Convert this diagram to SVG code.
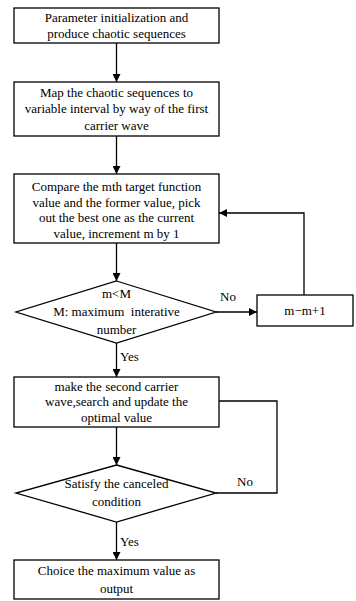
<svg xmlns="http://www.w3.org/2000/svg" width="356" height="601" viewBox="0 0 356 601">
<style>
.b{fill:#fff;stroke:#000;stroke-width:1.3}
.c{fill:none;stroke:#000;stroke-width:1.3}
text{font-family:"Liberation Serif","Times New Roman",serif;font-size:13px;fill:#000;text-anchor:middle}
.l{text-anchor:start}
</style>
<defs>
<marker id="a" viewBox="0 0 10 10" refX="10" refY="5" markerWidth="8" markerHeight="8" markerUnits="userSpaceOnUse" orient="auto">
<path d="M0,0 L10,5 L0,10 Z" fill="#000"/>
</marker>
</defs>
<rect width="356" height="601" fill="#fff"/>
<g id="connectors">
<line class="c" x1="116.5" y1="43" x2="116.5" y2="82" marker-end="url(#a)"/>
<line class="c" x1="116.5" y1="136" x2="116.5" y2="174" marker-end="url(#a)"/>
<line class="c" x1="116.5" y1="243" x2="116.5" y2="281" marker-end="url(#a)"/>
<line class="c" x1="216" y1="312" x2="257" y2="312" marker-end="url(#a)"/>
<polyline class="c" points="304,295 304,213 219,213" marker-end="url(#a)"/>
<line class="c" x1="116.5" y1="343" x2="116.5" y2="377" marker-end="url(#a)"/>
<polyline class="c" points="219,401 277,401 277,493 216,493"/>
<line class="c" x1="116.5" y1="427" x2="116.5" y2="465" marker-end="url(#a)"/>
<line class="c" x1="116.5" y1="522" x2="116.5" y2="560" marker-end="url(#a)"/>
<text class="l" x="220" y="301">No</text>
<text class="l" x="120" y="361">Yes</text>
<text class="l" x="237" y="486">No</text>
<text class="l" x="120" y="546">Yes</text>
</g>
<g id="n1">
<rect class="b" x="14" y="8" width="205" height="35"/>
<text x="116.5" y="22">Parameter initialization and</text>
<text x="116.5" y="38">produce chaotic sequences</text>
</g>
<g id="n2">
<rect class="b" x="14" y="82" width="205" height="54"/>
<text x="116.5" y="97">Map the chaotic sequences to</text>
<text x="116.5" y="113">variable interval by way of the first</text>
<text x="116.5" y="130">carrier wave</text>
</g>
<g id="n3">
<rect class="b" x="14" y="174" width="205" height="69"/>
<text x="116.5" y="191">Compare the mth target function</text>
<text x="116.5" y="207">value and the former value, pick</text>
<text x="116.5" y="222">out the best one as the current</text>
<text x="116.5" y="238">value, increment m by 1</text>
</g>
<g id="n4">
<polygon class="b" points="116.5,281 216,312 116.5,343 16,312"/>
<text x="116.5" y="298">m&lt;M</text>
<text x="116.5" y="316" xml:space="preserve">M: maximum  interative</text>
<text x="116.5" y="334">number</text>
</g>
<g id="n5">
<rect class="b" x="257" y="295" width="96" height="31"/>
<text x="305" y="315">m−m+1</text>
</g>
<g id="n6">
<rect class="b" x="14" y="377" width="205" height="50"/>
<text x="116.5" y="391">make the second carrier</text>
<text x="116.5" y="406">wave,search and update the</text>
<text x="116.5" y="422">optimal value</text>
</g>
<g id="n7">
<polygon class="b" points="116.5,465 216,493 116.5,522 16,493"/>
<text x="116.5" y="488">Satisfy the canceled</text>
<text x="116.5" y="506">condition</text>
</g>
<g id="n8">
<rect class="b" x="14" y="560" width="205" height="39"/>
<text x="116.5" y="575">Choice the maximum value as</text>
<text x="116.5" y="593">output</text>
</g>
</svg>
